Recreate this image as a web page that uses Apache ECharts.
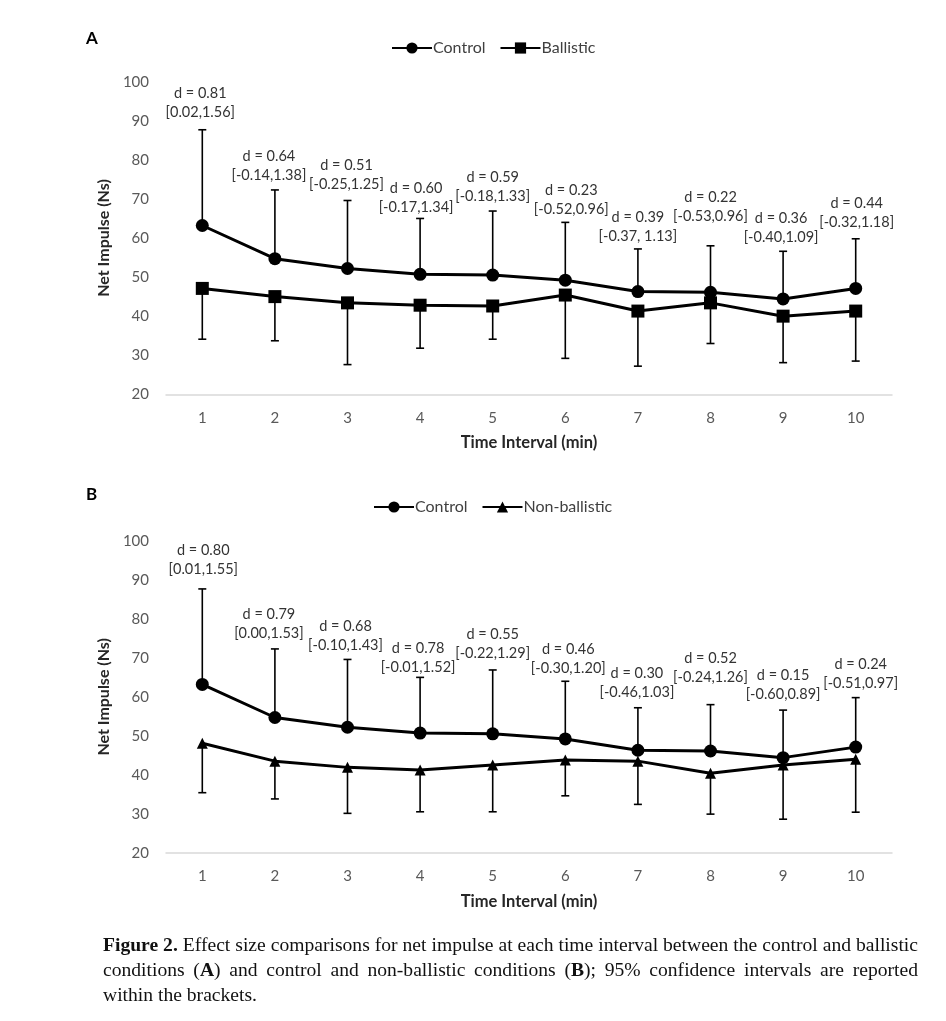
<!DOCTYPE html>
<html>
<head>
<meta charset="utf-8">
<script src="https://cdn.jsdelivr.net/npm/echarts@6/dist/echarts.min.js"></script>
<style>
  html, body { margin: 0; padding: 0; background: #fff; }
  #chart { position: absolute; left: 0; top: 0; width: 946px; height: 1021px; }
  #caption { position: absolute; left: 103px; top: 932px; width: 815px;
    font-family: "Liberation Serif", "DejaVu Serif", serif; font-size: 19.6px; line-height: 25px; color: #111; }
  #caption .ln { text-align: justify; text-align-last: justify; white-space: nowrap; }
  #caption .ln.last { text-align-last: left; }
</style>
</head>
<body>
<div id="chart"></div>
<div id="caption">
  <div class="ln"><b>Figure 2.</b> Effect size comparisons for net impulse at each time interval between the control and ballistic</div>
  <div class="ln">conditions (<b>A</b>) and control and non-ballistic conditions (<b>B</b>); 95% confidence intervals are reported</div>
  <div class="ln last">within the brackets.</div>
</div>
<script>
// ---- data ----
const categories = ['1', '2', '3', '4', '5', '6', '7', '8', '9', '10'];
const yTicks = [20, 30, 40, 50, 60, 70, 80, 90, 100];

const controlMean  = [63.2, 54.7, 52.2, 50.7, 50.5, 49.2, 46.3, 46.1, 44.4, 47.1];
const controlUpper = [87.7, 72.3, 69.6, 65.0, 66.9, 64.0, 57.2, 58.0, 56.6, 59.8];

const ballisticMean  = [47.1, 45.0, 43.4, 42.8, 42.6, 45.4, 41.3, 43.4, 40.0, 41.3];
const ballisticLower = [34.1, 33.7, 27.6, 31.8, 34.1, 29.2, 27.2, 33.0, 28.1, 28.5];

const nonBallisticMean  = [48.1, 43.5, 41.9, 41.2, 42.5, 43.8, 43.5, 40.4, 42.5, 44.0];
const nonBallisticLower = [35.4, 33.8, 30.1, 30.5, 30.5, 34.6, 32.4, 29.9, 28.6, 30.4];

const effectA = ['d = 0.81', 'd = 0.64', 'd = 0.51', 'd = 0.60', 'd = 0.59', 'd = 0.23', 'd = 0.39', 'd = 0.22', 'd = 0.36', 'd = 0.44'];
const ciA     = ['[0.02,1.56]', '[-0.14,1.38]', '[-0.25,1.25]', '[-0.17,1.34]', '[-0.18,1.33]', '[-0.52,0.96]', '[-0.37, 1.13]', '[-0.53,0.96]', '[-0.40,1.09]', '[-0.32,1.18]'];
const effectB = ['d = 0.80', 'd = 0.79', 'd = 0.68', 'd = 0.78', 'd = 0.55', 'd = 0.46', 'd = 0.30', 'd = 0.52', 'd = 0.15', 'd = 0.24'];
const ciB     = ['[0.01,1.55]', '[0.00,1.53]', '[-0.10,1.43]', '[-0.01,1.52]', '[-0.22,1.29]', '[-0.30,1.20]', '[-0.46,1.03]', '[-0.24,1.26]', '[-0.60,0.89]', '[-0.51,0.97]'];

// ---- layout tweaks for annotation placement (pixels) ----
const liftA = [5, 2, 4, -1, 2, 1, 0, 17, 1, 4];
const shiftA = [-2, -6, -1, -4, 0, 6, 0, 0, -2, 1];
const liftB = [7, 3, 2, -2, 4, 0, 3, 15, 3, 2];
const shiftB = [1, -6, -2, -2, 0, 3, -1, 0, 0, 5];

const FONT = 'Lato, "Open Sans", sans-serif';
const INK = '#000';

function errRender(params, api) {
  const i = api.value(0);
  const p1 = api.coord([i, api.value(1)]);
  const p2 = api.coord([i, api.value(2)]);
  return {
    type: 'group',
    children: [
      { type: 'line', shape: { x1: p1[0], y1: p1[1], x2: p2[0], y2: p2[1] }, style: { stroke: INK, lineWidth: 1.6 } },
      { type: 'line', shape: { x1: p2[0] - 4, y1: p2[1], x2: p2[0] + 4, y2: p2[1] }, style: { stroke: INK, lineWidth: 1.6 } }
    ]
  };
}

function labelRender(effect, ci, lift, shift) {
  return function (params, api) {
    const i = api.value(0);
    const p = api.coord([i, api.value(1)]);
    return {
      type: 'text',
      x: p[0] + shift[i],
      y: p[1] - 3 - lift[i],
      style: {
        text: effect[i] + '\n' + ci[i],
        align: 'center', verticalAlign: 'bottom',
        fontFamily: FONT, fontSize: 14.5, lineHeight: 19, fill: '#333'
      }
    };
  };
}

function idxData(arrA, arrB) { return categories.map((c, i) => arrB ? [i, arrA[i], arrB[i]] : [i, arrA[i]]); }

function xAxisCfg(gi) {
  return {
    type: 'category', gridIndex: gi, data: categories, boundaryGap: true,
    axisLine: { show: true, lineStyle: { color: '#d9d9d9', width: 1.5 } },
    axisTick: { show: false },
    axisLabel: { color: '#595959', fontFamily: FONT, fontSize: 15, margin: 16 },
    name: 'Time Interval (min)', nameLocation: 'middle', nameGap: 40,
    nameTextStyle: { color: '#262626', fontFamily: FONT, fontSize: 16.5, fontWeight: 'bold' }
  };
}
function yAxisCfg(gi) {
  return {
    type: 'value', gridIndex: gi, min: yTicks[0], max: yTicks[yTicks.length - 1], interval: 10,
    axisLine: { show: false }, axisTick: { show: false }, splitLine: { show: false },
    axisLabel: { color: '#595959', fontFamily: FONT, fontSize: 15, margin: 17 },
    name: 'Net Impulse (Ns)', nameLocation: 'middle', nameGap: 47, nameRotate: 90,
    nameTextStyle: { color: '#262626', fontFamily: FONT, fontSize: 16, fontWeight: 'bold' }
  };
}
function lineSeries(name, data, symbol, size, xi) {
  return {
    name, type: 'line', xAxisIndex: xi, yAxisIndex: xi, data,
    symbol, symbolSize: size, showAllSymbol: true, z: 5,
    lineStyle: { color: INK, width: 3 }, itemStyle: { color: INK }
  };
}

const chart = echarts.init(document.getElementById('chart'), null, { renderer: 'canvas' });
chart.setOption({
  animation: false,
  backgroundColor: '#fff',
  textStyle: { fontFamily: FONT },
  graphic: [
    { type: 'text', left: 86, top: 30, style: { text: 'A', fontFamily: FONT, fontSize: 17, fontWeight: 'bold', fill: '#000' } },
    { type: 'text', left: 86, top: 486, style: { text: 'B', fontFamily: FONT, fontSize: 17, fontWeight: 'bold', fill: '#000' } }
  ],
  legend: [
    { data: ['Control', 'Ballistic'], left: 386, top: 35, itemWidth: 40, itemHeight: 14, itemGap: 14,
      textStyle: { color: '#404040', fontFamily: FONT, fontSize: 16, padding: [0, 0, 0, -4] } },
    { data: ['Control', 'Non-ballistic'], left: 368, top: 494, itemWidth: 40, itemHeight: 14, itemGap: 14,
      textStyle: { color: '#404040', fontFamily: FONT, fontSize: 16, padding: [0, 0, 0, -4] } }
  ],
  grid: [
    { left: 166, right: 54, top: 81.7, height: 312.6 },
    { left: 166, right: 54, top: 541, height: 311.7 }
  ],
  xAxis: [xAxisCfg(0), xAxisCfg(1)],
  yAxis: [yAxisCfg(0), yAxisCfg(1)],
  series: [
    { type: 'custom', name: 'errCA', xAxisIndex: 0, yAxisIndex: 0, renderItem: errRender, data: idxData(controlMean, controlUpper), z: 2 },
    { type: 'custom', name: 'errBA', xAxisIndex: 0, yAxisIndex: 0, renderItem: errRender, data: idxData(ballisticMean, ballisticLower), z: 2 },
    lineSeries('Control', controlMean, 'circle', 13, 0),
    lineSeries('Ballistic', ballisticMean, 'rect', 13, 0),
    { type: 'custom', name: 'lblA', xAxisIndex: 0, yAxisIndex: 0, renderItem: labelRender(effectA, ciA, liftA, shiftA), data: idxData(controlUpper), z: 6 },

    { type: 'custom', name: 'errCB', xAxisIndex: 1, yAxisIndex: 1, renderItem: errRender, data: idxData(controlMean, controlUpper), z: 2 },
    { type: 'custom', name: 'errNB', xAxisIndex: 1, yAxisIndex: 1, renderItem: errRender, data: idxData(nonBallisticMean, nonBallisticLower), z: 2 },
    lineSeries('Control', controlMean, 'circle', 13, 1),
    lineSeries('Non-ballistic', nonBallisticMean, 'triangle', 11, 1),
    { type: 'custom', name: 'lblB', xAxisIndex: 1, yAxisIndex: 1, renderItem: labelRender(effectB, ciB, liftB, shiftB), data: idxData(controlUpper), z: 6 }
  ]
});
</script>
</body>
</html>
